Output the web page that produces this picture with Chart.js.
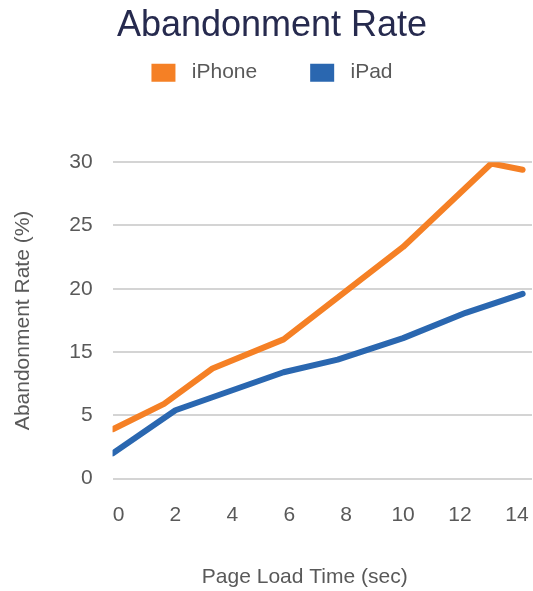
<!DOCTYPE html>
<html>
<head>
<meta charset="utf-8">
<title>Abandonment Rate</title>
<script src="https://cdn.jsdelivr.net/npm/chart.js@4.4.0/dist/chart.umd.min.js"></script>
<style>
    html, body { margin: 0; padding: 0; background: #ffffff; }
    #wrap { width: 533px; height: 591px; }
</style>
</head>
<body>
<div id="wrap"><canvas id="abandonChart"></canvas></div>
<script>
// Page load time (sec) and abandonment rate (%)
const iphoneTimes = [-0.2, 1.6, 3.3, 5.8, 10.0, 13.1, 14.2];
const iphoneRates = [8.9, 10.9, 13.7, 16.0, 23.3, 29.9, 29.4];
const ipadTimes = [-0.2, 2.0, 5.8, 7.7, 10.0, 12.2, 14.2];
const ipadRates = [7.0, 10.4, 13.4, 14.4, 16.1, 18.1, 19.6];

// Axis ticks as they are printed on the original
const xTickValues = [0, 2, 4, 6, 8, 10, 12, 14];
const yTickValues = [5, 10, 15, 20, 25, 30];
const yTickLabels = ['0', '5', '15', '20', '25', '30'];

const FONT = "'Liberation Sans', Arial, sans-serif";
const GREY = '#595959';

function toPoints(xs, ys) {
    return xs.map((x, i) => ({ x: x, y: ys[i] }));
}

// push the plot area down below the legend
const legendMargin = {
    id: 'legendMargin',
    beforeInit(chart) {
        const fit = chart.legend.fit;
        chart.legend.fit = function () {
            fit.bind(chart.legend)();
            this.height += 69;
        };
    }
};

// flat legend swatches, a bit more room before the text
function legendLabels(chart) {
    const items = Chart.defaults.plugins.legend.labels.generateLabels(chart);
    return items.map(item => Object.assign(item, { lineWidth: 0, text: ' ' + item.text }));
}

function initChart() {
    const ctx = document.getElementById('abandonChart').getContext('2d');
    new Chart(ctx, {
        type: 'line',
        data: {
            datasets: [{
                label: 'iPhone',
                data: toPoints(iphoneTimes, iphoneRates),
                borderColor: '#f58025',
                backgroundColor: '#f58025',
                borderWidth: 6,
                pointRadius: 0,
                tension: 0,
                borderCapStyle: 'round',
                borderJoinStyle: 'round',
                fill: false
            }, {
                label: 'iPad',
                data: toPoints(ipadTimes, ipadRates),
                borderColor: '#2a67b0',
                backgroundColor: '#2a67b0',
                borderWidth: 6,
                pointRadius: 0,
                tension: 0,
                borderCapStyle: 'round',
                borderJoinStyle: 'round',
                fill: false
            }]
        },
        options: {
            responsive: true,
            maintainAspectRatio: false,
            animation: false,
            layout: { padding: { left: 12, right: 1, top: 0, bottom: 0 } },
            plugins: {
                title: {
                    display: true,
                    text: 'Abandonment Rate',
                    color: '#262a4e',
                    font: { family: FONT, size: 36, weight: 'normal' },
                    padding: { top: 4, bottom: -38 }
                },
                legend: {
                    display: true,
                    labels: {
                        color: GREY,
                        font: { family: FONT, size: 21 },
                        boxWidth: 24,
                        boxHeight: 18,
                        padding: 53,
                        generateLabels: legendLabels
                    }
                },
                tooltip: { enabled: false }
            },
            scales: {
                x: {
                    type: 'linear',
                    min: -0.21,
                    max: 14.53,
                    afterBuildTicks: axis => {
                        axis.ticks = xTickValues.map(v => ({ value: v }));
                    },
                    afterFit: axis => {
                        axis.paddingLeft = 0;
                        axis.paddingRight = 0;
                    },
                    grid: { display: false, drawTicks: false },
                    border: { display: false },
                    ticks: {
                        color: GREY,
                        font: { family: FONT, size: 21 },
                        padding: 24,
                        maxRotation: 0
                    },
                    title: {
                        display: true,
                        // trailing spaces pull the centred title a little to the left
                        text: 'Page Load Time (sec)      ',
                        color: GREY,
                        font: { family: FONT, size: 21 },
                        padding: { top: 13, bottom: 1 }
                    }
                },
                y: {
                    min: 5,
                    max: 30,
                    afterBuildTicks: axis => {
                        axis.ticks = yTickValues.map(v => ({ value: v }));
                    },
                    grid: { color: '#d4d4d4', lineWidth: 2, drawTicks: false },
                    border: { display: false },
                    ticks: {
                        color: GREY,
                        font: { family: FONT, size: 21 },
                        padding: 20,
                        callback: (value, index) => yTickLabels[index]
                    },
                    title: {
                        display: true,
                        text: 'Abandonment Rate (%)',
                        color: GREY,
                        font: { family: FONT, size: 21 },
                        padding: { top: -1, bottom: 13 }
                    }
                }
            }
        },
        plugins: [legendMargin]
    });
}

document.addEventListener('DOMContentLoaded', initChart);
</script>
</body>
</html>
